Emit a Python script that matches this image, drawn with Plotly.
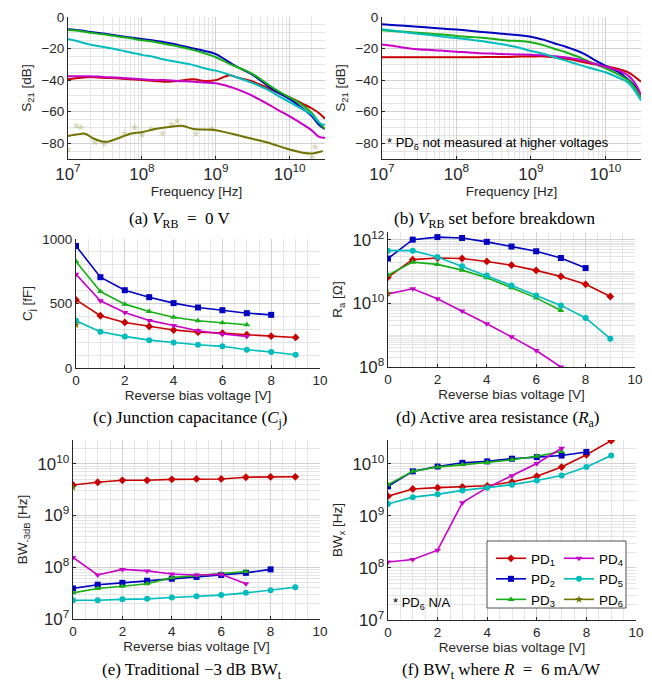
import plotly.graph_objects as go

W, H = 652, 686

PD_NAMES = ["PD<sub>1</sub>", "PD<sub>2</sub>", "PD<sub>3</sub>", "PD<sub>4</sub>", "PD<sub>5</sub>", "PD<sub>6</sub>"]
COLORS = ["#C80000", "#0000C0", "#16B016", "#C800C8", "#00BCBC", "#727200"]
SYMBOLS = ["diamond", "square", "triangle-up", "triangle-down", "circle", "star"]

# ---------- (a) S21 at V_RB = 0 V ----------
FREQ = [1e7, 1.5e7, 2e7, 3e7, 5e7, 7e7, 1e8, 1.5e8, 2e8, 3e8, 5e8, 7e8, 1e9,
        1.5e9, 2e9, 3e9, 5e9, 7e9, 1e10, 1.5e10, 2e10, 2.5e10, 3e10]
S21A_PD1 = [-39.5, -38.5, -38, -38.5, -39, -39.5, -40, -40.5, -41, -40.5, -39.5, -40.5, -40,
            -37, -38.5, -40.5, -45, -48, -51, -55, -58, -61, -64.5]
S21A_PD2 = [-7.8, -8.6, -9.5, -10.5, -12, -13, -14, -15, -16, -17.5, -20, -21.5, -23.5,
            -28.5, -32, -36, -43.5, -48, -52, -58, -63, -68.5, -71]
S21A_PD3 = [-8.3, -9, -10, -11, -12.5, -13.5, -14.8, -15.8, -17, -18.5, -21, -23, -25.5,
            -29.5, -32, -35.5, -42.5, -47, -51, -56, -61, -67, -71]
S21A_PD4 = [-37.5, -37.5, -37.5, -38, -38.5, -39, -39.5, -40, -40, -40.5, -41, -41.5, -42,
            -44, -46, -49.5, -55, -59, -63, -68, -72, -76, -76.5]
S21A_PD5 = [-14, -16, -17.5, -19, -21, -22.5, -24, -25.5, -27, -28.5, -30.5, -32.5, -34,
            -36.5, -38.5, -41.5, -46, -50, -54, -58.5, -62, -67, -68.5]
FREQ_PD6 = [1e7, 1.3e7, 1.7e7, 2.2e7, 3e7, 3.5e7, 5e7, 7e7, 1e8, 1.5e8, 2.5e8, 3.5e8, 5e8,
            9e8, 1.2e9, 2e9, 3e9, 5e9, 1e10, 1.5e10, 2e10, 2.5e10, 2.8e10]
S21A_PD6 = [-75.5, -74.5, -74, -77, -79, -79, -76.5, -74, -73, -71, -69.5, -69, -71,
            -71.5, -72.5, -75, -77, -79.5, -84, -86, -86.5, -85.5, -85]
FREQ_PD6_RAW = [1e7, 1.3e7, 1.5e7, 2.3e7, 3.1e7, 5.8e7, 8e7, 1e8, 1.35e8, 1.9e8, 2.5e8, 3e8,
                5.4e8, 8.8e8, 2e10, 2.2e10]
S21A_PD6_RAW = [-84, -69, -70, -79.4, -80.4, -73.7, -70, -74.7, -71, -73.7, -68, -66,
                -74, -71, -89, -82.5]

# ---------- (b) S21 at V_RB set before breakdown ----------
S21B_PD1 = [-25.5, -25.5, -25.5, -25.5, -25.5, -25.5, -25.5, -25.5, -25.5, -25.3, -25.3, -25, -25,
            -25, -25.5, -26.5, -28.5, -30, -31, -33, -35, -38, -41]
S21B_PD2 = [-4.6, -5.2, -5.6, -6.2, -7, -7.5, -8, -8.7, -9.3, -10, -11, -11.5, -12.5,
            -14.5, -16.5, -19, -23, -27, -31, -35, -39.5, -44, -50]
S21B_PD3 = [-8.4, -9, -9.4, -10, -10.8, -11.3, -12, -12.6, -13, -13.8, -15, -15.2, -16,
            -18, -20, -22.5, -26.5, -29.5, -32.5, -36.5, -40, -45, -51]
S21B_PD4 = [-17.5, -18.5, -19.5, -20.5, -21, -21.5, -22, -22.5, -23, -23.2, -23.6, -23.8, -24,
            -24.3, -24.8, -25.7, -27.5, -29.5, -31.5, -34, -37, -42, -49.5]
S21B_PD5 = [-7.8, -8.8, -9.6, -10.6, -11.8, -12.6, -13.3, -14.3, -15, -16.3, -18, -19.5, -21.5,
            -23.5, -25.3, -27.8, -31, -33, -35, -38.5, -41.5, -47, -53]

# ---------- voltages ----------
V_PD1 = [0, 1, 2, 3, 4, 5, 6, 7, 8, 9]
V_PD2 = [0, 1, 2, 3, 4, 5, 6, 7, 8]
V_PD3 = [0, 1, 2, 3, 4, 5, 6, 7]
V_PD4 = [0, 1, 2, 3, 4, 5, 6, 7]
V_PD5 = [0, 1, 2, 3, 4, 5, 6, 7, 8, 9]
V_PD6 = [0]

# ---------- (c) junction capacitance [fF] ----------
CJ_PD1 = [528, 405, 353, 322, 294, 278, 271, 258, 247, 237]
CJ_PD2 = [946, 704, 603, 549, 503, 469, 448, 425, 412]
CJ_PD3 = [825, 593, 495, 438, 394, 366, 351, 335]
CJ_PD4 = [727, 521, 430, 369, 330, 289, 263, 245]
CJ_PD5 = [366, 281, 245, 216, 198, 180, 168, 142, 124, 103]
CJ_PD6 = [335]

# ---------- (d) active area resistance [Ohm] ----------
RA_PD1 = [6.8e10, 2.4e11, 2.7e11, 2.6e11, 2.1e11, 1.6e11, 1.1e11, 7.1e10, 4.0e10, 1.66e10]
RA_PD2 = [2.6e11, 1.02e12, 1.23e12, 1.15e12, 8.7e11, 6.2e11, 4.4e11, 2.7e11, 1.3e11]
RA_PD3 = [7.8e10, 2.0e11, 1.7e11, 1.12e11, 6.5e10, 3.1e10, 1.5e10, 6.0e9]
RA_PD4 = [2.0e10, 2.9e10, 1.4e10, 5.8e9, 2.3e9, 8.9e8, 3.3e8, 1.0e8]
RA_PD5 = [4.6e11, 4.6e11, 2.9e11, 1.48e11, 7.6e10, 3.7e10, 1.78e10, 8.7e9, 3.5e9, 7.8e8]
RA_PD6 = [2.1e10]

# ---------- (e) traditional -3 dB bandwidth [Hz] ----------
BW3_PD1 = [3.9e9, 4.4e9, 4.8e9, 4.8e9, 5.0e9, 5.1e9, 5.1e9, 5.5e9, 5.6e9, 5.6e9]
BW3_PD2 = [3.9e7, 4.6e7, 5.0e7, 5.5e7, 6.0e7, 6.5e7, 7.1e7, 7.8e7, 9.1e7]
BW3_PD3 = [3.2e7, 3.9e7, 4.3e7, 4.8e7, 6.3e7, 6.9e7, 7.4e7, 8.3e7]
BW3_PD4 = [1.55e8, 7.1e7, 9.1e7, 8.5e7, 7.4e7, 7.1e7, 7.3e7, 4.8e7]
BW3_PD5 = [2.3e7, 2.3e7, 2.4e7, 2.45e7, 2.6e7, 2.75e7, 2.9e7, 3.2e7, 3.6e7, 4.1e7]
BW3_PD6 = [3.5e9]

# ---------- (f) bandwidth where R = 6 mA/W [Hz] ----------
BWX_PD1 = [2.4e9, 3.3e9, 3.5e9, 3.6e9, 3.8e9, 4.5e9, 5.8e9, 8.7e9, 1.5e10, 2.8e10]
BWX_PD2 = [3.7e9, 7.2e9, 8.9e9, 1.05e10, 1.12e10, 1.26e10, 1.35e10, 1.45e10, 1.7e10]
BWX_PD3 = [4.0e9, 7.2e9, 8.7e9, 9.8e9, 1.07e10, 1.2e10, 1.4e10, 1.74e10]
BWX_PD4 = [1.3e8, 1.45e8, 2.2e8, 1.8e9, 3.5e9, 5.9e9, 1.02e10, 2.0e10]
BWX_PD5 = [1.7e9, 2.3e9, 2.6e9, 3.1e9, 3.5e9, 4.0e9, 4.8e9, 6.0e9, 8.7e9, 1.45e10]

FONT = "Liberation Sans, Arial, sans-serif"
SERIF = "Liberation Serif, Times New Roman, serif"
AXC = "#262626"
GRID = "#d2d2d2"
MINOR = "#e4e4e4"
FS = 13.5

fig = go.Figure()


def dom(x0, x1, y0, y1):
    return [x0 / W, x1 / W], [1 - y1 / H, 1 - y0 / H]


def add_line(xs, ys, i, ax, mode="lines+markers", width=1.6, size=6, legend=False, shape="linear"):
    fig.add_trace(go.Scatter(
        x=xs, y=ys, mode=mode, name=PD_NAMES[i],
        line=dict(color=COLORS[i], width=width, shape=shape),
        marker=dict(color=COLORS[i], symbol=SYMBOLS[i], size=size, line=dict(width=0)),
        xaxis="x" + ax, yaxis="y" + ax, showlegend=legend,
        legend="legend" if i < 3 else "legend2",
    ))


# (a)
for i, ys in enumerate([S21A_PD1, S21A_PD2, S21A_PD3, S21A_PD4, S21A_PD5]):
    add_line(FREQ, ys, i, "", mode="lines", width=2, shape="spline")
fig.add_trace(go.Scatter(x=FREQ_PD6_RAW, y=S21A_PD6_RAW, mode="markers", showlegend=False,
                         marker=dict(color=COLORS[5], symbol="star", size=6, opacity=0.25),
                         xaxis="x", yaxis="y"))
add_line(FREQ_PD6, S21A_PD6, 5, "", mode="lines", width=2, shape="spline")

# (b)
for i, ys in enumerate([S21B_PD1, S21B_PD2, S21B_PD3, S21B_PD4, S21B_PD5]):
    add_line(FREQ, ys, i, "2", mode="lines", width=2, shape="spline")

VS = [V_PD1, V_PD2, V_PD3, V_PD4, V_PD5, V_PD6]
# (c)
for i, ys in enumerate([CJ_PD1, CJ_PD2, CJ_PD3, CJ_PD4, CJ_PD5, CJ_PD6]):
    add_line(VS[i], ys, i, "3", legend=True)
# (d)
for i, ys in enumerate([RA_PD1, RA_PD2, RA_PD3, RA_PD4, RA_PD5, RA_PD6]):
    add_line(VS[i], ys, i, "4")
# (e)
for i, ys in enumerate([BW3_PD1, BW3_PD2, BW3_PD3, BW3_PD4, BW3_PD5, BW3_PD6]):
    add_line(VS[i], ys, i, "5")
# (f)
for i, ys in enumerate([BWX_PD1, BWX_PD2, BWX_PD3, BWX_PD4, BWX_PD5]):
    add_line(VS[i], ys, i, "6")


def xax(domain, anchor, title, log=False, rng=None, dtick=None, minor=None, standoff=3):
    d = dict(domain=domain, anchor=anchor, range=rng, showline=True, linecolor=AXC, linewidth=1,
             automargin=False,
             ticks="inside", ticklen=3, tickcolor=AXC, tickfont=dict(family=FONT, size=FS, color=AXC),
             showgrid=True, gridcolor=GRID, gridwidth=1, zeroline=False, mirror=False,
             title=dict(text=title, font=dict(family=FONT, size=FS, color=AXC), standoff=standoff))
    if log:
        d.update(type="log", dtick=dtick, exponentformat="power",
                 minor=dict(dtick="D1", showgrid=True, gridcolor=MINOR, ticks=""))
    else:
        d.update(dtick=dtick, minor=dict(dtick=minor, showgrid=True, gridcolor=MINOR, ticks=""))
    return d


def yax(domain, anchor, title, log=False, rng=None, dtick=None, minor=None, standoff=6):
    return xax(domain, anchor, title, log, rng, dtick, minor, standoff)


xa, ya = dom(60, 317, 9, 151)
xb, yb = dom(374, 633, 9, 151)
xc, yc = dom(68, 312, 231, 360)
xd, yd = dom(380, 627, 224, 359)
xe, ye = dom(65, 312, 432, 611)
xf, yf = dom(380, 628, 432, 612)

fig.update_layout(
    template="none",
    width=W, height=H, margin=dict(l=0, r=0, t=0, b=0),
    paper_bgcolor="white", plot_bgcolor="white",
    font=dict(family=FONT, size=FS, color=AXC),
    xaxis=xax(xa, "y", "Frequency [Hz]", log=True, rng=[7, 10.477], dtick=1),
    yaxis=yax(ya, "x", "S<sub>21</sub> [dB]", rng=[-90, 0], dtick=20, minor=5),
    xaxis2=xax(xb, "y2", "Frequency [Hz]", log=True, rng=[7, 10.477], dtick=1),
    yaxis2=yax(yb, "x2", "S<sub>21</sub> [dB]", rng=[-90, 0], dtick=20, minor=5),
    xaxis3=xax(xc, "y3", "Reverse bias voltage [V]", rng=[0, 10], dtick=2, minor=0.5),
    yaxis3=yax(yc, "x3", "C<sub>j</sub> [fF]", rng=[0, 1000], dtick=500, minor=100),
    xaxis4=xax(xd, "y4", "Reverse bias voltage [V]", rng=[0, 10], dtick=2, minor=0.5),
    yaxis4=yax(yd, "x4", "R<sub>a</sub> [Ω]", log=True, rng=[8, 12.25], dtick=2),
    xaxis5=xax(xe, "y5", "Reverse bias voltage [V]", rng=[0, 10], dtick=2, minor=0.5),
    yaxis5=yax(ye, "x5", "BW<sub>-3dB</sub> [Hz]", log=True, rng=[7, 10.46], dtick=1),
    xaxis6=xax(xf, "y6", "Reverse bias voltage [V]", rng=[0, 10], dtick=2, minor=0.5),
    yaxis6=yax(yf, "x6", "BW<sub>x</sub> [Hz]", log=True, rng=[7, 10.46], dtick=1),
    legend=dict(x=483 / W, y=1 - 535 / H, xanchor="left", yanchor="top", bgcolor="rgba(0,0,0,0)",
                font=dict(family=FONT, size=FS, color="black"), itemwidth=30, tracegroupgap=0,
                orientation="v", borderwidth=0),
    legend2=dict(x=551 / W, y=1 - 535 / H, xanchor="left", yanchor="top", bgcolor="rgba(0,0,0,0)",
                 font=dict(family=FONT, size=FS, color="black"), itemwidth=30, tracegroupgap=0,
                 orientation="v", borderwidth=0),
)

fig.add_shape(type="rect", xref="paper", yref="paper", x0=479 / W, x1=618 / W,
              y0=1 - 600 / H, y1=1 - 533 / H, fillcolor="white",
              line=dict(color=AXC, width=0.8), layer="above")

fig.add_annotation(text="* PD<sub>6</sub> not measured at higher voltages", x=377 / W, y=1 - 135 / H,
                   xref="paper", yref="paper", xanchor="left", yanchor="middle", showarrow=False,
                   font=dict(family=FONT, size=13, color="black"))
fig.add_annotation(text="* PD<sub>6</sub> N/A", x=383 / W, y=1 - 595 / H,
                   xref="paper", yref="paper", xanchor="left", yanchor="middle", showarrow=False,
                   font=dict(family=FONT, size=13, color="black"))

CAPTIONS = [
    ("(a) <i>V</i><sub>RB</sub>  =  0 V", 172, 212),
    ("(b) <i>V</i><sub>RB</sub> set before breakdown", 486, 212),
    ("(c) Junction capacitance (<i>C</i><sub>j</sub>)", 182, 411),
    ("(d) Active area resistance (<i>R</i><sub>a</sub>)", 490, 411),
    ("(e) Traditional −3 dB BW<sub>t</sub>", 184, 663),
    ("(f) BW<sub>t</sub> where <i>R</i>  =  6 mA/W", 494, 663),
]
for text, cx, cy in CAPTIONS:
    fig.add_annotation(text=text, x=cx / W, y=1 - cy / H, xref="paper", yref="paper",
                       xanchor="center", yanchor="middle", showarrow=False,
                       font=dict(family=SERIF, size=17, color="black"))

fig.write_html("out.html")
